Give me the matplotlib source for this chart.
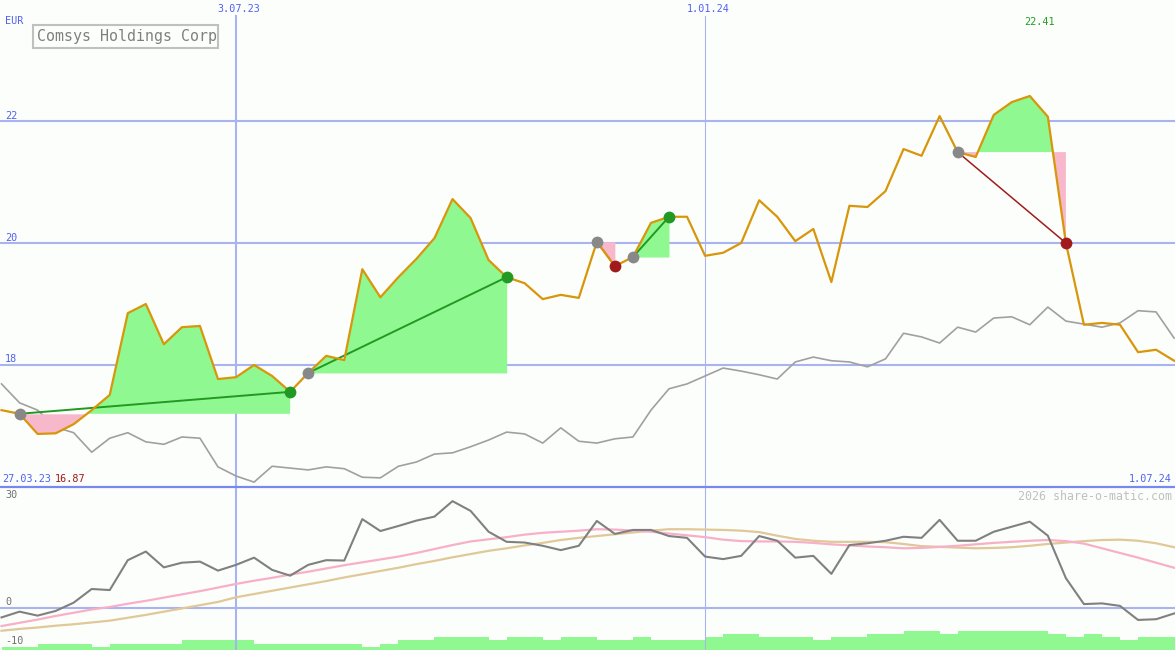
import matplotlib

matplotlib.use("Agg")
import matplotlib.pyplot as plt
import matplotlib.dates as mdates
import pandas as pd
from matplotlib.patches import Rectangle

W, H = 1175, 650

# weekly closes, first week starting 3 Apr 2023
WEEKS = pd.date_range("2023-04-03", periods=66, freq="7D")

PRICE = [
    17.26, 17.20, 16.87, 16.88, 17.03, 17.26, 17.51, 18.85, 19.00, 18.34,
    18.62, 18.64, 17.77, 17.80, 18.00, 17.82, 17.56, 17.87, 18.15, 18.08,
    19.57, 19.11, 19.44, 19.74, 20.08, 20.72, 20.41, 19.72, 19.44, 19.34,
    19.08, 19.15, 19.10, 20.02, 19.62, 19.77, 20.33, 20.43, 20.43, 19.79,
    19.84, 20.00, 20.70, 20.43, 20.03, 20.23, 19.36, 20.61, 20.59, 20.85,
    21.54, 21.43, 22.08, 21.49, 21.41, 22.10, 22.31, 22.41, 22.07, 20.00,
    18.66, 18.69, 18.66, 18.21, 18.25, 18.07,
]

# comparison index, rescaled into the price panel
INDEX_LINE = [
    17.69, 17.38, 17.26, 16.98, 16.89, 16.57, 16.80, 16.89, 16.74, 16.70,
    16.82, 16.80, 16.33, 16.18, 16.08, 16.34, 16.31, 16.28, 16.33, 16.30,
    16.16, 16.15, 16.34, 16.41, 16.54, 16.56, 16.66, 16.77, 16.90, 16.87,
    16.72, 16.97, 16.75, 16.72, 16.79, 16.82, 17.26, 17.61, 17.69, 17.82,
    17.95, 17.90, 17.84, 17.77, 18.05, 18.13, 18.07, 18.05, 17.97, 18.10,
    18.52, 18.46, 18.36, 18.62, 18.54, 18.77, 18.79, 18.66, 18.95, 18.72,
    18.67, 18.62, 18.69, 18.89, 18.87, 18.44,
]

OSCILLATOR = [
    -2.7, -1.1, -2.2, -0.9, 1.4, 5.2, 4.9, 13.2, 15.6, 11.2,
    12.5, 12.8, 10.3, 11.9, 13.9, 10.5, 8.9, 11.9, 13.2, 13.1,
    24.6, 21.3, 22.7, 24.2, 25.3, 29.6, 26.9, 21.1, 18.3, 18.1,
    17.2, 16.0, 17.2, 24.1, 20.5, 21.6, 21.6, 19.9, 19.4, 14.2,
    13.5, 14.4, 19.9, 18.6, 13.9, 14.4, 9.4, 17.4, 17.9, 18.6,
    19.7, 19.4, 24.4, 18.6, 18.6, 21.1, 22.5, 23.9, 20.0, 8.2,
    1.0, 1.2, 0.5, -3.4, -3.2, -1.6,
]

OSC_FAST = [
    -5.1, -4.2, -3.3, -2.3, -1.4, -0.5, 0.2, 1.1, 1.9, 2.8,
    3.7, 4.6, 5.6, 6.6, 7.5, 8.3, 9.2, 10.0, 10.9, 11.8,
    12.6, 13.4, 14.2, 15.2, 16.3, 17.4, 18.4, 19.0, 19.6, 20.3,
    20.8, 21.1, 21.4, 21.8, 21.7, 21.4, 21.1, 20.6, 20.1, 19.6,
    18.9, 18.5, 18.4, 18.4, 18.3, 18.0, 17.6, 17.3, 17.0, 16.8,
    16.5, 16.6, 16.9, 17.2, 17.6, 18.0, 18.3, 18.6, 18.8, 18.5,
    17.8, 16.5, 15.2, 13.9, 12.5, 11.1,
]

OSC_SLOW = [
    -6.4, -5.9, -5.5, -5.0, -4.6, -4.1, -3.6, -2.8, -2.0, -1.1,
    -0.2, 0.7, 1.6, 2.9, 3.8, 4.7, 5.6, 6.5, 7.4, 8.4,
    9.3, 10.2, 11.1, 12.1, 13.0, 14.0, 14.9, 15.8, 16.5, 17.3,
    18.0, 18.8, 19.4, 19.9, 20.4, 20.9, 21.4, 21.8, 21.8, 21.7,
    21.6, 21.4, 21.0, 20.0, 19.1, 18.6, 18.3, 18.3, 18.3, 18.2,
    17.7, 17.1, 16.9, 16.7, 16.5, 16.6, 16.8, 17.2, 17.7, 18.1,
    18.5, 18.8, 18.9, 18.6, 17.9, 16.8,
]

# relative weekly volume
VOLUME = [
    1, 1, 2, 2, 2, 1, 2, 2, 2, 2,
    3, 3, 3, 3, 2, 2, 2, 2, 2, 2,
    1, 2, 3, 3, 4, 4, 4, 3, 4, 4,
    3, 4, 4, 3, 3, 4, 3, 3, 3, 4,
    5, 5, 4, 4, 4, 3, 4, 4, 5, 5,
    6, 6, 5, 6, 6, 6, 6, 6, 5, 4,
    5, 4, 3, 4, 4, 4,
]

# (entry week, exit week)
TRADES = [(1, 16), (17, 28), (33, 34), (35, 37), (53, 59)]

Y_LABELS = [22, 20, 18]
DATE_MARKS = [("2023-07-03", "3.07.23", 1.5), ("2024-01-01", "1.01.24", 0.8)]

BG = "#fcfefc"
GRID = "#a8b4f0"
LABEL_BLUE = "#5060f0"
UP_FILL = "#90f890"
DOWN_FILL = "#f8b8cc"
UP_LINE = "#229922"
DOWN_LINE = "#a01c1c"
MONO = "DejaVu Sans Mono"


def px(x, y):
    return x / W, 1 - y / H


def label(fig, x, y, text, color=LABEL_BLUE, size=7.3, ha="left"):
    fig.text(*px(x, y), text, color=color, fontsize=size, family=MONO,
             ha=ha, va="center")


def clean(ax):
    ax.set_facecolor(BG)
    ax.set_xticks([])
    ax.set_yticks([])
    for spine in ax.spines.values():
        spine.set_visible(False)


def main():
    fig = plt.figure(figsize=(W / 100, H / 100), dpi=100, facecolor=BG)
    ax = fig.add_axes([0, 163 / H, 1, 487 / H])
    low = fig.add_axes([0, 0, 1, 162 / H])
    vol = low.twinx()

    x0 = WEEKS[0] - pd.Timedelta(hours=14)
    x1 = WEEKS[-1] + pd.Timedelta(hours=8)
    for a in (ax, low, vol):
        clean(a)
        a.set_xlim(x0, x1)
    ax.set_ylim(16, 16 + 487 / 61)
    low.set_ylim(-11.75, 33.25)
    vol.set_ylim(0, 51)
    vol.set_zorder(low.get_zorder() - 1)
    low.patch.set_visible(False)

    ax.spines["bottom"].set_visible(True)
    ax.spines["bottom"].set_color("#7888ee")
    ax.spines["bottom"].set_linewidth(1.6)

    for level in Y_LABELS:
        ax.axhline(level, color=GRID, lw=1.5, zorder=1)
    low.axhline(0, color=GRID, lw=1.5, zorder=1)
    for date, _text, lw in DATE_MARKS:
        ax.axvline(pd.Timestamp(date), ymax=1 - 16 / 487, color=GRID, lw=lw, zorder=1)
        low.axvline(pd.Timestamp(date), color=GRID, lw=lw, zorder=1)

    ax.plot(WEEKS, INDEX_LINE, color="#a0a0a0", lw=1.2, zorder=2)

    for start, end in TRADES:
        seg = slice(start, end + 1)
        entry = PRICE[start]
        xs = WEEKS[seg]
        ys = pd.Series(PRICE[seg])
        ax.fill_between(xs, ys, entry, where=ys >= entry, interpolate=True,
                        color=UP_FILL, lw=0, zorder=3)
        ax.fill_between(xs, ys, entry, where=ys <= entry, interpolate=True,
                        color=DOWN_FILL, lw=0, zorder=3)

    ax.plot(WEEKS, PRICE, color="#d8960a", lw=1.6, zorder=5)

    for start, end in TRADES:
        won = PRICE[end] > PRICE[start]
        color = UP_LINE if won else DOWN_LINE
        ax.plot([WEEKS[start], WEEKS[end]], [PRICE[start], PRICE[end]],
                color=color, lw=1.4 if won else 1.1, zorder=4)
        ax.plot(WEEKS[start], PRICE[start], "o", color="#888888", ms=8.5,
                mec="none", zorder=6)
        ax.plot(WEEKS[end], PRICE[end], "o", color=color, ms=8.5,
                mec="none", zorder=6)

    vol.bar(WEEKS, VOLUME, width=7, align="edge", color=UP_FILL, lw=0)
    low.plot(WEEKS, OSC_SLOW, color="#e0c898", lw=1.6, zorder=2)
    low.plot(WEEKS, OSC_FAST, color="#f8b0c8", lw=1.6, zorder=2)
    low.plot(WEEKS, OSCILLATOR, color="#808080", lw=1.5, zorder=3)

    # texts
    label(fig, 5, 21, "EUR")
    for level, y in zip(Y_LABELS, (116, 238, 359)):
        label(fig, 5, y, str(level))
    for date, text, _lw in DATE_MARKS:
        xp = mdates.date2num(pd.Timestamp(date))
        xfrac = (xp - mdates.date2num(x0)) / (mdates.date2num(x1) - mdates.date2num(x0))
        label(fig, xfrac * W + 3, 9, text, ha="center")
    label(fig, 2, 479, "27.03.23")
    label(fig, 55, 479, f"{min(PRICE):.2f}", color="#a01818")
    label(fig, 1172, 479, "1.07.24", ha="right")
    label(fig, 1024, 22, f"{max(PRICE):.2f}", color="#20a020")

    fig.add_artist(Rectangle(px(33, 48), 185 / W, 23 / H, transform=fig.transFigure,
                             facecolor="none", edgecolor="#c0c0c0", lw=1.5))
    label(fig, 37, 37, "Comsys Holdings Corp", color="#808080", size=10.8)

    for text, y in (("30", 495), ("0", 602), ("-10", 641)):
        label(fig, 5, y, text, color="#707070")
    label(fig, 1172, 496, "2026 share-o-matic.com", color="#c0c0c0", size=8.4, ha="right")

    fig.savefig("out.png", dpi=100, facecolor=BG)
    plt.close(fig)


if __name__ == "__main__":
    main()
